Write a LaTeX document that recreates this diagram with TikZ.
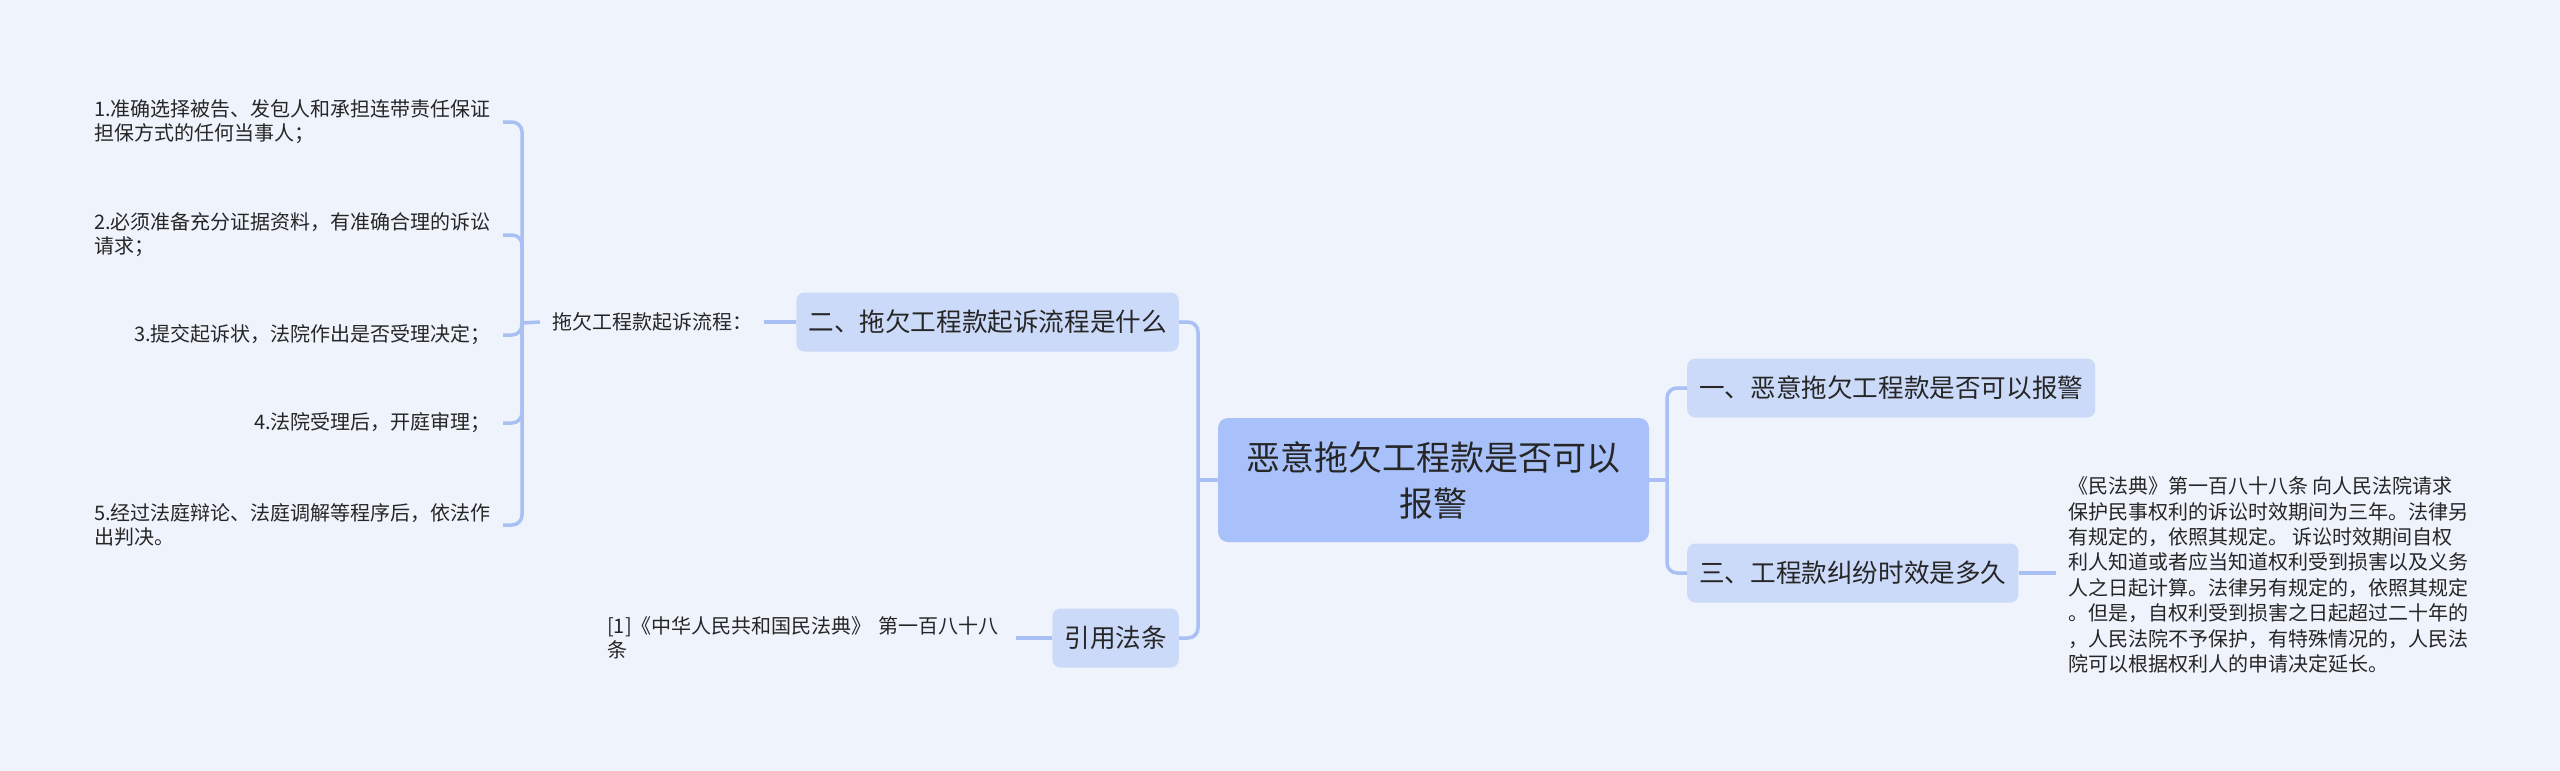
\documentclass[tikz,border=0pt]{standalone}
\usepackage{fontspec}
\setmainfont{Noto Sans CJK SC}
\definecolor{bg}{HTML}{EEF3FC}
\definecolor{rootc}{HTML}{A9C1FA}
\definecolor{brc}{HTML}{CCDAFA}
\definecolor{linec}{HTML}{A9C0F4}
\definecolor{txt}{HTML}{262626}
\begin{document}
\begin{tikzpicture}[x=1pt,y=-1pt,
  conn/.style={draw=linec, line width=3.5pt, rounded corners=10pt},
  rootbox/.style={fill=rootc, rounded corners=10pt, minimum width=431pt, minimum height=124pt, inner sep=0pt, align=center, font=\fontsize{34pt}{46pt}\selectfont, text=txt},
  branch/.style={fill=brc, rounded corners=8pt, minimum height=59pt, inner xsep=12pt, inner ysep=0pt, font=\fontsize{25.6pt}{30pt}\selectfont, text=txt},
  leaf/.style={inner xsep=12pt, inner ysep=2pt, align=left, font=\fontsize{20pt}{24pt}\selectfont, text=txt}]
\fill[bg] (0,0) rectangle (2560,771);
\useasboundingbox (0,0) rectangle (2560,771);

\node[rootbox] (root) at (1433.5,480) {恶意拖欠工程款是否可以\\报警};
\node[branch, anchor=west] (b1) at (1687,388) {一、恶意拖欠工程款是否可以报警};
\node[branch, anchor=west] (b3) at (1687,573) {三、工程款纠纷时效是多久};
\node[branch, anchor=east] (b2) at (1179,322) {二、拖欠工程款起诉流程是什么};
\node[branch, anchor=east] (b4) at (1179,638) {引用法条};

\node[leaf, anchor=west] (p) at (540,322) {拖欠工程款起诉流程：};
\node[leaf, anchor=east] (l1) at (503,122) {1.准确选择被告、发包人和承担连带责任保证\\担保方式的任何当事人；};
\node[leaf, anchor=east] (l2) at (503,235) {2.必须准备充分证据资料，有准确合理的诉讼\\请求；};
\node[leaf, anchor=east] (l3) at (503,335) {3.提交起诉状，法院作出是否受理决定；};
\node[leaf, anchor=east] (l4) at (503,423) {4.法院受理后，开庭审理；};
\node[leaf, anchor=east] (l5) at (503,525) {5.经过法庭辩论、法庭调解等程序后，依法作\\出判决。};

\node[leaf, anchor=west, text width=397pt] (ref) at (595,638) {[1]《中华人民共和国民法典》 第一百八十八\\条};

\node[leaf, anchor=west, font=\fontsize{20pt}{25.4pt}\selectfont] (law) at (2056,575) {《民法典》第一百八十八条 向人民法院请求\\保护民事权利的诉讼时效期间为三年。法律另\\有规定的，依照其规定。 诉讼时效期间自权\\利人知道或者应当知道权利受到损害以及义务\\人之日起计算。法律另有规定的，依照其规定\\。但是，自权利受到损害之日起超过二十年的\\，人民法院不予保护，有特殊情况的，人民法\\院可以根据权利人的申请决定延长。};

\coordinate (lj) at (1198,480);
\coordinate (rj) at (1667,480);
\coordinate (pj) at (522,323);

\draw[conn] (root.west) -- (lj);
\draw[conn] (lj) |- (b2.east);
\draw[conn] (lj) |- (b4.east);
\draw[conn] (root.east) -- (rj);
\draw[conn] (rj) |- (b1.west);
\draw[conn] (rj) |- (b3.west);
\draw[conn] (b2.west) -- (p.east);
\draw[conn] (p.west) -- (pj);
\draw[conn] (pj) |- (l1.east);
\draw[conn] (pj) |- (l2.east);
\draw[conn] (pj) |- (l3.east);
\draw[conn] (pj) |- (l4.east);
\draw[conn] (pj) |- (l5.east);
\draw[conn] (b4.west) -- (b4.west -| ref.east);
\draw[conn] (b3.east) -- (b3.east -| law.west);
\end{tikzpicture}
\end{document}
